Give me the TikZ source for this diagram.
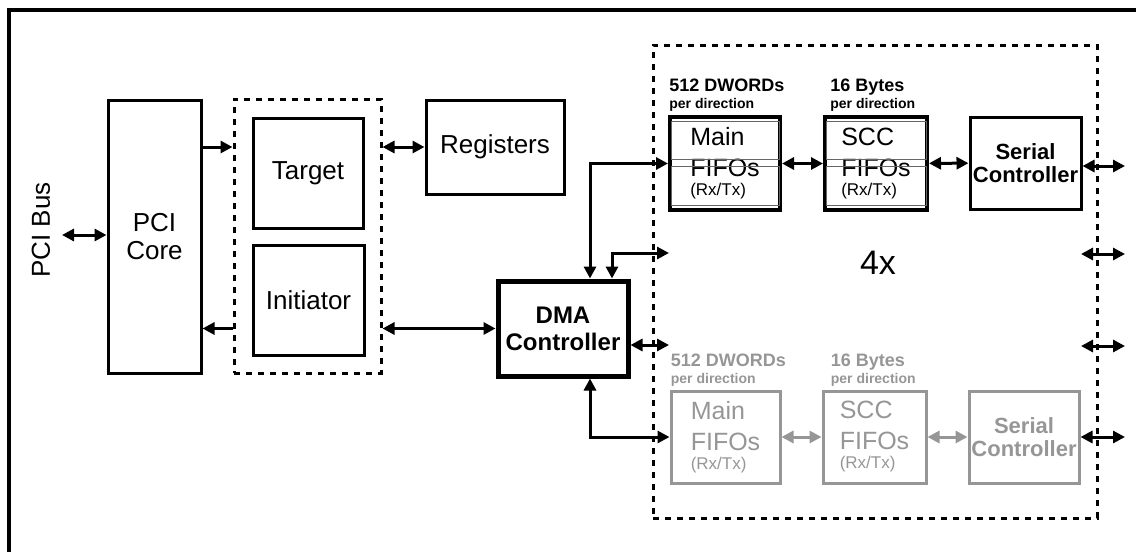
\documentclass[tikz,border=0pt]{standalone}
\usepackage{fontspec}
\setmainfont{Liberation Sans}
\usetikzlibrary{arrows.meta,positioning}
\definecolor{fifogray}{RGB}{150,150,150}
\tikzstyle{block} = [rectangle, draw=black, line width=1.5pt, inner sep=0pt, align=center, font=\fontsize{13}{14}\selectfont]
\tikzstyle{dma} = [block, line width=2.5pt, font=\bfseries\fontsize{12}{13.5}\selectfont]
\tikzstyle{group} = [rectangle, draw=black, line width=1.5pt, dash pattern=on 3pt off 3pt]
\tikzstyle{fifo} = [block, line width=2pt, align=left, font=\fontsize{12.5}{15.5}\selectfont]
\tikzstyle{serial} = [block, font=\bfseries\fontsize{11}{11.5}\selectfont]
\tikzstyle{grey} = [draw=fifogray, text=fifogray, line width=1.5pt]
\tikzstyle{sizelabel} = [anchor=south west, inner sep=0pt, align=left, font=\bfseries\fontsize{9}{9}\selectfont]
\tikzstyle{arrow} = [line width=1.5pt, -{Triangle[length=6pt,width=6pt]}]
\tikzstyle{biarrow} = [line width=1.5pt, {Triangle[length=6pt,width=6pt]}-{Triangle[length=6pt,width=6pt]}]
\begin{document}
\begin{tikzpicture}[x=0.5pt,y=-0.5pt]
\useasboundingbox (0,0) rectangle (1136,552);
% Frame
\draw[line width=2pt] (9,552) -- (9,10) -- (1136,10);

% PCI side
\node (bus) [rotate=90, font=\fontsize{13}{15}\selectfont] at (41,230) {PCI Bus};
\node (core) [block, minimum width=46.5pt, minimum height=136.5pt] at (154.5,236.5) {PCI\\Core};
\node (group) [group, minimum width=73.5pt, minimum height=137pt] at (307.5,236) {};
\node (target) [block, minimum width=55pt, minimum height=55pt] at (308,173) {Target};
\node (initiator) [block, minimum width=55.5pt, minimum height=55pt] at (308.5,300) {Initiator};
\node (regs) [block, minimum width=69pt, minimum height=47pt] at (495,147) {Registers};
\node (dma) [dma, minimum width=65pt, minimum height=47.5pt] at (563,328.5) {DMA\\Controller};

% Channels
\node (channels) [group, minimum width=222pt, minimum height=236.5pt] at (875,281.5) {};
\node (count) [font=\fontsize{17}{20}\selectfont] at (878,263) {4x};

% First channel
\node (mainA) [fifo, minimum width=55pt, minimum height=46.5pt] at (725,163.5) {Main\\FIFOs\\[-6pt]{\fontsize{8.5}{9}\selectfont(Rx/Tx)}};
\node (sccA) [fifo, minimum width=51pt, minimum height=46.5pt] at (876,163.5) {SCC\\FIFOs\\[-6pt]{\fontsize{8.5}{9}\selectfont(Rx/Tx)}};
\node (serialA) [serial, minimum width=55.5pt, minimum height=46pt] at (1025.5,163) {Serial\\Controller};
\foreach \f in {mainA,sccA} {
  \draw[line width=0.4pt, draw=black!60] ([shift={(3,6)}]\f.north west) rectangle ([shift={(-3,-4.5)}]\f.east);
  \draw[line width=0.4pt, draw=black!60] ([shift={(3,2.5)}]\f.west) rectangle ([shift={(-3,-7)}]\f.south east);
}
\node (sizeA) [sizelabel] at ([shift={(1,-3)}]mainA.north west) {512 DWORDs\\[-0.5pt]{\fontsize{7}{7}\selectfont per direction}};
\node (depthA) [sizelabel] at ([shift={(7,-3)}]sccA.north west) {16 Bytes\\[-0.5pt]{\fontsize{7}{7}\selectfont per direction}};

% Other channels
\node (mainB) [fifo, grey, minimum width=54.5pt, minimum height=46pt] at (725.5,437) {Main\\FIFOs\\[-6pt]{\fontsize{8.5}{9}\selectfont(Rx/Tx)}};
\node (sccB) [fifo, grey, minimum width=51.5pt, minimum height=46pt] at (874.5,437) {SCC\\FIFOs\\[-6pt]{\fontsize{8.5}{9}\selectfont(Rx/Tx)}};
\node (serialB) [serial, grey, minimum width=55pt, minimum height=46pt] at (1024,437) {Serial\\Controller};
\node (sizeB) [sizelabel, text=fifogray] at ([shift={(1,-3)}]mainB.north west) {512 DWORDs\\[-0.5pt]{\fontsize{7}{7}\selectfont per direction}};
\node (depthB) [sizelabel, text=fifogray] at ([shift={(9,-3)}]sccB.north west) {16 Bytes\\[-0.5pt]{\fontsize{7}{7}\selectfont per direction}};

% Free ends
\coordinate (busend) at (62,235);
\coordinate (chanB) at (669,253);
\coordinate (chanC) at (669,345);
\foreach \y [count=\i] in {254,346} {
  \coordinate (pinL\i) at (1081,\y);
  \coordinate (pinR\i) at (1125,\y);
}
\coordinate (outA) at (1125,166);
\coordinate (outB) at (1125,437);

% Arrows
\draw[biarrow] (busend) -- (busend -| core.west);
\draw[arrow] (core.east |- regs) -- (group.west |- regs);
\draw[arrow] (group.west |- dma) -- (core.east |- dma);
\draw[biarrow] (group.east |- regs) -- (regs.west);
\draw[biarrow] (group.east |- dma) -- (dma.west);
\draw[biarrow] ([xshift=13.5pt]dma.north) |- (mainA.west);
\draw[biarrow] ([xshift=24.5pt]dma.north) |- (chanB);
\draw[biarrow] (dma.east |- chanC) -- (chanC);
\draw[biarrow] ([xshift=13.5pt]dma.south) |- (mainB.west);
\draw[biarrow] (mainA) -- (sccA);
\draw[biarrow] (sccA) -- (serialA);
\draw[biarrow] (serialA.east |- outA) -- (outA);
\draw[biarrow, fifogray] (mainB) -- (sccB);
\draw[biarrow, fifogray] (sccB) -- (serialB);
\draw[biarrow] (serialB) -- (outB);
\foreach \i in {1,2} {
  \draw[biarrow] (pinL\i) -- (pinR\i);
}
\end{tikzpicture}
\end{document}
